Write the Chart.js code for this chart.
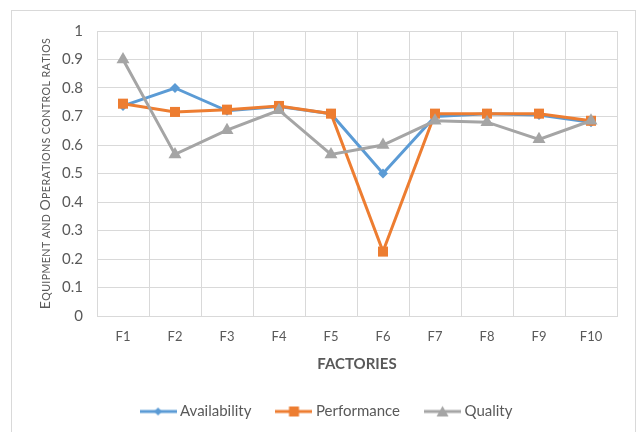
<!DOCTYPE html>
<html>
<head>
<meta charset="utf-8">
<script src="https://cdn.jsdelivr.net/npm/chart.js@4/dist/chart.umd.min.js"></script>
<style>
  html, body { margin: 0; padding: 0; background: #ffffff; overflow: hidden; }
  #wrap { position: relative; width: 640px; height: 432px; }
  #frame { position: absolute; left: 11px; top: 10px; width: 625px; height: 440px;
           border: 1px solid #d9d9d9; box-sizing: border-box; }
  #c { position: absolute; left: 0; top: 0; }
</style>
</head>
<body>
<div id="wrap">
  <div id="frame"></div>
  <canvas id="c" width="640" height="432"></canvas>
</div>
<script>
const factories = ['F1', 'F2', 'F3', 'F4', 'F5', 'F6', 'F7', 'F8', 'F9', 'F10'];
const availability = [0.737, 0.80, 0.72, 0.735, 0.71, 0.50, 0.70, 0.71, 0.705, 0.68];
const performance  = [0.745, 0.716, 0.724, 0.737, 0.71, 0.226, 0.71, 0.71, 0.71, 0.685];
const quality      = [0.90, 0.567, 0.652, 0.722, 0.567, 0.60, 0.685, 0.68, 0.62, 0.685];
const yTicks = [0, 0.1, 0.2, 0.3, 0.4, 0.5, 0.6, 0.7, 0.8, 0.9, 1];

const BLUE = '#5B9BD5', ORANGE = '#ED7D31', GREY = '#A5A5A5';
const TEXT = '#595959', GRID = '#d9d9d9';
const FONT = 'Lato, "Open Sans", sans-serif';

// Legend swatch: a short line with the series marker in its middle
function swatch(color, shape) {
  const cv = document.createElement('canvas');
  cv.width = 37; cv.height = 14;
  const g = cv.getContext('2d');
  g.strokeStyle = color; g.lineWidth = 3;
  g.beginPath(); g.moveTo(0, 7); g.lineTo(37, 7); g.stroke();
  g.fillStyle = color;
  g.beginPath();
  if (shape === 'diamond') {
    g.moveTo(18.5, 3); g.lineTo(22.5, 7); g.lineTo(18.5, 11); g.lineTo(14.5, 7);
  } else if (shape === 'square') {
    g.rect(13.5, 2, 10, 10);
  } else {
    g.moveTo(18.5, 1.5); g.lineTo(24.5, 12); g.lineTo(12.5, 12);
  }
  g.closePath(); g.fill();
  return cv;
}

// Small-caps rendering of a rotated axis title, centred on the plot height
function drawSmallCapsTitle(scale, text, length, centerX) {
  const ctx = scale.ctx;
  const area = scale.chart.chartArea;
  const ratio = 0.76;
  const pieces = [...text].map(ch => ({
    ch: ch.toUpperCase(),
    big: ch !== ' ' && ch === ch.toUpperCase()
  }));
  const measure = (size) => pieces.reduce((w, p) => {
    ctx.font = `${p.big ? size : size * ratio}px ${FONT}`;
    return w + ctx.measureText(p.ch).width + 0.4;
  }, 0);
  ctx.save();
  const base = 13;
  const size = base * length / measure(base);
  const total = measure(size);
  ctx.translate(centerX + size * 0.36, (area.top + area.bottom) / 2);
  ctx.rotate(-Math.PI / 2);
  ctx.fillStyle = TEXT;
  ctx.textBaseline = 'alphabetic';
  ctx.textAlign = 'left';
  let x = -total / 2;
  for (const p of pieces) {
    ctx.font = `${p.big ? size : size * ratio}px ${FONT}`;
    ctx.fillText(p.ch, x, 0);
    x += ctx.measureText(p.ch).width + 0.4;
  }
  ctx.restore();
}

const axisText = {
  id: 'axisText',
  afterLayout(chart) {
    const sx = chart.scales.x;
    if (!sx._spaced) {
      // letter-spaced category labels
      const orig = sx.draw;
      sx.draw = function (area) {
        const ctx = this.ctx;
        ctx.save();
        ctx.letterSpacing = '2px';
        orig.call(this, area);
        ctx.restore();
      };
      sx._spaced = true;
    }
    const sy = chart.scales.y;
    if (!sy._caps) {
      sy.drawTitle = function () {
        drawSmallCapsTitle(this, this.options.title.text, 273, 45);
      };
      sy._caps = true;
    }
  }
};

const ds = (label, data, color, style, radius, order, legendImg) => ({
  label, data, order,
  borderColor: color, backgroundColor: color,
  borderWidth: 3,
  pointStyle: style, pointRadius: radius, pointHoverRadius: radius,
  pointBackgroundColor: color, pointBorderColor: color, pointBorderWidth: 0,
  tension: 0, legendImg
});

new Chart(document.getElementById('c'), {
  type: 'line',
  data: {
    labels: factories,
    datasets: [
      ds('Availability', availability, BLUE, 'rectRot', 5, 3, swatch(BLUE, 'diamond')),
      ds('Performance', performance, ORANGE, 'rect', 7.1, 2, swatch(ORANGE, 'square')),
      ds('Quality', quality, GREY, 'triangle', 7.5, 1, swatch(GREY, 'triangle'))
    ]
  },
  plugins: [axisText],
  options: {
    responsive: false,
    animation: false,
    devicePixelRatio: 1,
    layout: { padding: { left: 39, right: 23, top: 31, bottom: 3 } },
    scales: {
      x: {
        offset: true,
        grid: { offset: true, color: GRID, lineWidth: 1, drawTicks: false },
        border: { color: GRID, width: 1 },
        ticks: { color: TEXT, padding: 13, font: { family: FONT, size: 13 } },
        title: {
          display: true, text: 'FACTORIES', color: TEXT,
          font: { family: FONT, size: 15, weight: 'bold' },
          padding: { top: 0, bottom: 3 }
        },
        afterFit(scale) { scale.height = 60; }
      },
      y: {
        min: 0, max: 1,
        afterBuildTicks(scale) { scale.ticks = yTicks.map(v => ({ value: v })); },
        grid: { color: GRID, lineWidth: 1, drawTicks: false },
        border: { color: GRID, width: 1 },
        ticks: {
          color: TEXT, padding: 14, font: { family: FONT, size: 15 },
          callback: (v) => String(Math.round(v * 10) / 10)
        },
        title: {
          display: true, text: 'Equipment and Operations control ratios', color: TEXT,
          font: { family: FONT, size: 13 },
          padding: { top: 0, bottom: 0 }
        },
        afterFit(scale) { scale.width = 58; }
      }
    },
    plugins: {
      tooltip: { enabled: false },
      legend: {
        position: 'bottom',
        labels: {
          usePointStyle: true,
          pointStyleWidth: 29,
          padding: 28,
          color: TEXT,
          font: { family: FONT, size: 15 },
          sort: (a, b) => a.datasetIndex - b.datasetIndex,
          generateLabels(chart) {
            return chart.data.datasets.map((d, i) => ({
              text: d.label, datasetIndex: i, pointStyle: d.legendImg,
              fillStyle: d.borderColor, strokeStyle: d.borderColor,
              fontColor: TEXT, lineWidth: 0, hidden: false
            }));
          }
        }
      }
    }
  }
});
</script>
</body>
</html>
